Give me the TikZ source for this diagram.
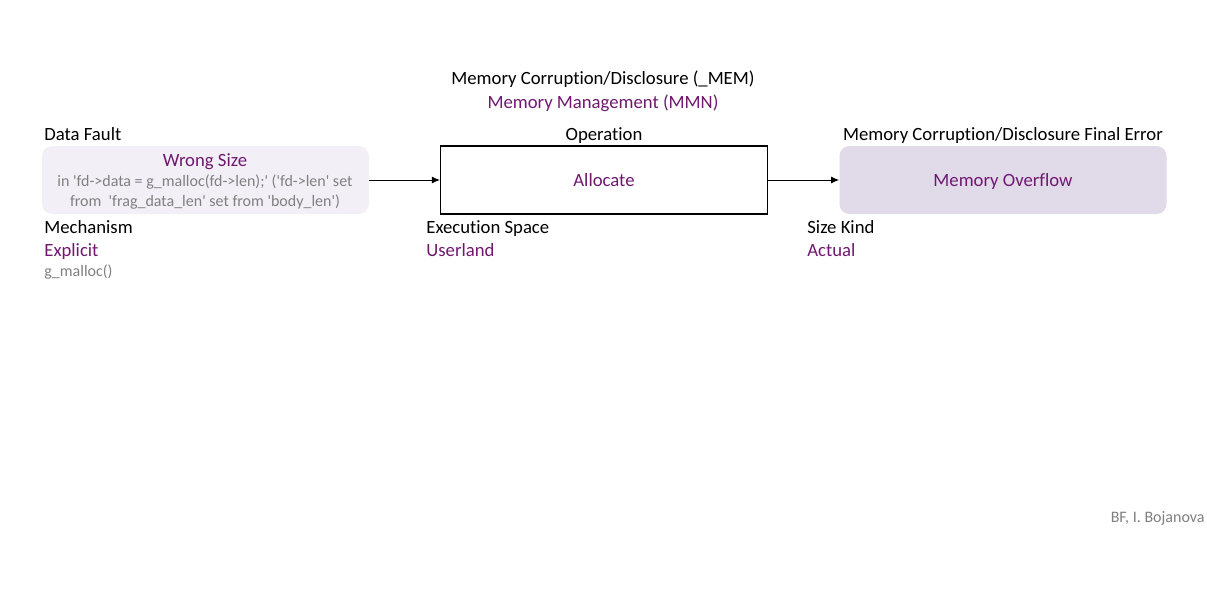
\documentclass[tikz,border=0pt]{standalone}
\usepackage{fontspec}
\setmainfont{Carlito}[Ligatures={NoCommon}]
\usetikzlibrary{arrows.meta}
\definecolor{bfpurple}{RGB}{112,24,112}
\definecolor{bfgrey}{RGB}{128,128,128}
\definecolor{causefill}{RGB}{242,240,246}
\definecolor{errorfill}{RGB}{225,218,233}
\newcommand{\q}{\textquotesingle}
\tikzset{
  lbl/.style={inner sep=0pt, anchor=base, font=\fontsize{9.35}{11}\selectfont},
  val/.style={lbl, text=bfpurple},
  note/.style={inner sep=0pt, anchor=base, text=bfgrey, font=\fontsize{8}{10}\selectfont},
  bfbox/.style={minimum width=163.5pt, minimum height=34pt, inner sep=0pt},
  flow/.style={-{Latex[length=4pt,width=3.5pt]}, line width=0.5pt}
}
\begin{document}
\begin{tikzpicture}[x=0.5pt,y=-0.5pt]
\useasboundingbox (0,0) rectangle (1207,591);
% class
\node[lbl] (cls) at (603,84) {Memory Corruption/Disclosure (\_MEM)};
\node[val] (sub) at (603,108) {Memory Management (MMN)};
% cause
\node[lbl, anchor=base west] (fault) at (44,140) {Data Fault};
\node[bfbox, fill=causefill, rounded corners=5pt] (cause) at (205.5,180) {};
\node[val] (wrong) at (205,166) {Wrong Size};
\node[note] (detaila) at (205,186) {in \q fd->data = g\_malloc(fd->len);\q{} (\q fd->len\q{} set};
\node[note] (detailb) at (205,206) {from \ \q frag\_data\_len\q{} set from \q body\_len\q )};
\node[lbl, anchor=base west] (mech) at (44,233) {Mechanism};
\node[val, anchor=base west] (expl) at (44,256) {Explicit};
\node[note, anchor=base west] (gm) at (44,276) {g\_malloc()};
% operation
\node[lbl] (op) at (604,140) {Operation};
\node[bfbox, draw=black, line width=0.6pt, fill=white] (alloc) at (604,180) {};
\node[val] (alloctxt) at (604,186) {Allocate};
\node[lbl, anchor=base west] (exsp) at (426,233) {Execution Space};
\node[val, anchor=base west] (user) at (426,256) {Userland};
% final error
\node[lbl] (fin) at (1003,140) {Memory Corruption/Disclosure Final Error};
\node[bfbox, fill=errorfill, rounded corners=5pt] (err) at (1003,180) {};
\node[val] (errtxt) at (1003,186) {Memory Overflow};
\node[lbl, anchor=base west] (szk) at (807,233) {Size Kind};
\node[val, anchor=base west] (act) at (807,256) {Actual};
% arrows
\draw[flow] (cause.east) -- (alloc.west);
\draw[flow] (alloc.east) -- (err.west);
\node[note, anchor=base east] (auth) at (1205,522) {BF, I. Bojanova};
\end{tikzpicture}
\end{document}
